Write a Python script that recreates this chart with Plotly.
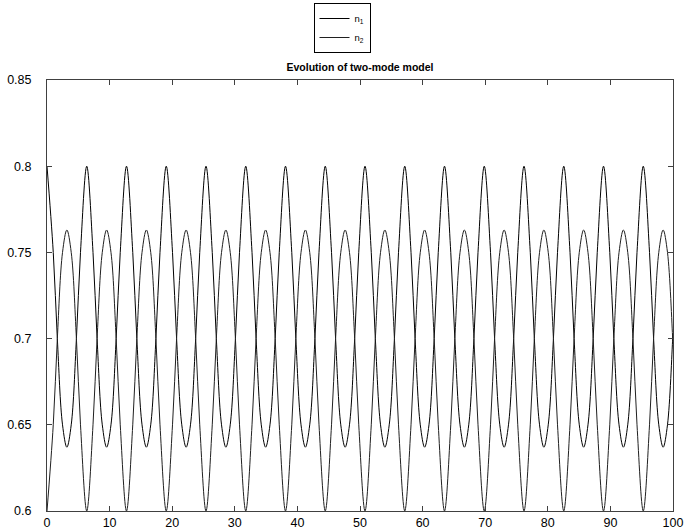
import plotly.graph_objects as go

# Values
# times of the n1 maxima (n1 = 0.8, n2 = 0.6)
t_peak = [0.0, 6.35, 12.7, 19.05, 25.4, 31.75, 38.1, 44.45, 50.8,
          57.15, 63.5, 69.85, 76.2, 82.55, 88.9, 95.25]
# time offsets (after each maximum) of the read points within one cycle
cycle_dt = [0.0, 1.0, 1.65, 2.48, 3.175, 3.87, 4.70, 5.35]
n1_cycle = [0.800, 0.750, 0.700, 0.650, 0.637, 0.650, 0.700, 0.750]
n2_cycle = [0.600, 0.650, 0.700, 0.750, 0.763, 0.750, 0.700, 0.650]
# values at the right end of the run
t_end = 100.0
n1_end = 0.703
n2_end = 0.697

x_ticks = [0, 10, 20, 30, 40, 50, 60, 70, 80, 90, 100]
y_ticks = [0.6, 0.65, 0.7, 0.75, 0.8, 0.85]
y_ticklabels = ["0.6", "0.65", "0.7", "0.75", "0.8", "0.85"]

t_pts, n1_pts, n2_pts = [], [], []
for t0 in t_peak:
    for dt, a, b in zip(cycle_dt, n1_cycle, n2_cycle):
        if t0 + dt < t_end:
            t_pts.append(t0 + dt)
            n1_pts.append(a)
            n2_pts.append(b)
t_pts.append(t_end)
n1_pts.append(n1_end)
n2_pts.append(n2_end)

FONT = "Liberation Sans, Arial, Helvetica, sans-serif"

fig = go.Figure()
fig.add_trace(go.Scatter(x=t_pts, y=n1_pts, mode="lines", name="n<sub>1</sub>",
                         line=dict(color="black", width=1, shape="spline")))
fig.add_trace(go.Scatter(x=t_pts, y=n2_pts, mode="lines", name="n<sub>2</sub>",
                         line=dict(color="#202020", width=1, shape="spline")))

axis_common = dict(showline=True, linecolor="#404040", linewidth=1, mirror="ticks",
                   ticks="inside", ticklen=5, tickcolor="#404040", tickwidth=1,
                   showgrid=False, zeroline=False,
                   tickfont=dict(family=FONT, size=12.5, color="black"))

fig.update_layout(
    width=684, height=532,
    margin=dict(l=47, r=11, t=80, b=21, pad=0, autoexpand=False),
    paper_bgcolor="white", plot_bgcolor="white",
    title=dict(text="<b>Evolution of two-mode model</b>", x=0.5, xref="paper", xanchor="center",
               y=1 - 67 / 532, yref="container", yanchor="middle",
               font=dict(family=FONT, size=10.5, color="black")),
    xaxis=dict(range=[0, 100], tickvals=x_ticks, **axis_common),
    yaxis=dict(range=[0.6, 0.85], tickvals=y_ticks, ticktext=y_ticklabels,
               ticklabelstandoff=12, **axis_common),
    legend=dict(xref="container", yref="container", x=0.5, xanchor="center",
                y=1 - 3 / 532, yanchor="top", bordercolor="black", borderwidth=1,
                bgcolor="white", tracegroupgap=0,
                font=dict(family=FONT, size=9.5, color="black")),
    showlegend=True,
)

fig.write_html("out.html", config={"displayModeBar": False},
               post_script="document.body.style.margin='0px';")
